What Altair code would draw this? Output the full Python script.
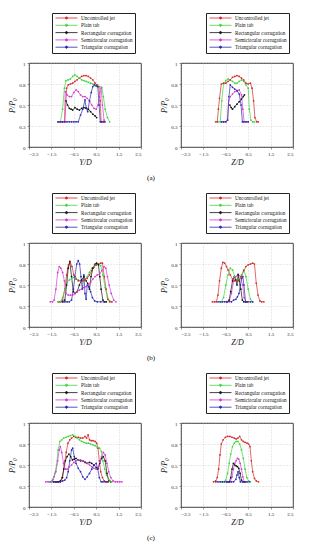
import altair as alt
import pandas as pd

names = ["Uncontrolled jet", "Plain tab", "Rectangular corrugation",
         "Semicircular corrugation", "Triangular corrugation"]
colors = ["#d42a2a", "#3fd43f", "#111111", "#d23cd2", "#2a2ab0"]
x_ticks = [-2.5, -1.5, -0.5, 0.5, 1.5, 2.5]
y_ticks = [0, 0.25, 0.5, 0.75, 1]
row_labels = ["(a)", "(b)", "(c)"]

# ---------- (a) Y/D ----------
a_y_unc_x = [-1.2,-1.1,-1.0,-0.9,-0.82,-0.75,-0.65,-0.55,-0.45,-0.35,-0.25,-0.15,-0.05,0.05,0.15,0.25,0.35,0.45,0.55,0.62,0.68,0.72,0.8,0.9]
a_y_unc_p = [0.3,0.3,0.3,0.3,0.7,0.74,0.75,0.76,0.78,0.8,0.82,0.84,0.85,0.85,0.84,0.82,0.8,0.76,0.74,0.72,0.55,0.3,0.3,0.3]
a_y_pla_x = [-1.2,-1.1,-1.0,-0.92,-0.85,-0.75,-0.65,-0.55,-0.45,-0.35,-0.25,-0.15,-0.05,0.05,0.15,0.25,0.35,0.45,0.55,0.65,0.75,0.82,0.9,1.0,1.1]
a_y_pla_p = [0.3,0.3,0.45,0.7,0.79,0.8,0.81,0.84,0.86,0.84,0.82,0.8,0.79,0.78,0.77,0.76,0.75,0.73,0.72,0.72,0.71,0.6,0.45,0.35,0.3]
a_y_rec_x = [-0.85,-0.78,-0.7,-0.62,-0.55,-0.45,-0.35,-0.25,-0.15,-0.05,0.05,0.15,0.25,0.35,0.45,0.52]
a_y_rec_p = [0.55,0.5,0.46,0.45,0.44,0.47,0.45,0.44,0.46,0.47,0.46,0.45,0.42,0.39,0.37,0.35]
a_y_sem_x = [-1.2,-1.1,-1.0,-0.92,-0.88,-0.8,-0.7,-0.6,-0.5,-0.4,-0.3,-0.2,-0.1,0.0,0.1,0.2,0.3,0.4,0.5,0.58,0.65,0.72,0.78,0.85,0.9]
a_y_sem_p = [0.3,0.3,0.3,0.3,0.66,0.62,0.6,0.6,0.65,0.68,0.66,0.62,0.6,0.6,0.58,0.55,0.5,0.46,0.45,0.5,0.6,0.7,0.5,0.32,0.3]
a_y_tri_x = [-1.2,-1.1,-1.0,-0.9,-0.8,-0.7,-0.6,-0.5,-0.4,-0.3,-0.2,-0.1,0.0,0.05,0.12,0.2,0.28,0.35,0.42,0.5,0.57,0.63,0.68,0.75,0.85]
a_y_tri_p = [0.3,0.3,0.3,0.3,0.3,0.3,0.3,0.3,0.3,0.3,0.38,0.45,0.56,0.47,0.42,0.55,0.65,0.72,0.74,0.73,0.72,0.5,0.3,0.3,0.3]

# ---------- (a) Z/D ----------
a_z_unc_x = [-0.95,-0.88,-0.83,-0.78,-0.7,-0.6,-0.5,-0.4,-0.3,-0.2,-0.1,0.0,0.1,0.2,0.3,0.4,0.5,0.6,0.67,0.74,0.8,0.88,0.95]
a_z_unc_p = [0.3,0.3,0.45,0.58,0.75,0.76,0.76,0.78,0.8,0.83,0.84,0.85,0.84,0.82,0.8,0.76,0.75,0.76,0.7,0.55,0.35,0.3,0.3]
a_z_pla_x = [-0.85,-0.75,-0.68,-0.6,-0.5,-0.4,-0.3,-0.2,-0.1,0.0,0.1,0.2,0.3,0.4,0.5,0.55,0.62,0.7,0.78]
a_z_pla_p = [0.3,0.3,0.55,0.75,0.79,0.81,0.8,0.78,0.76,0.76,0.78,0.8,0.78,0.74,0.7,0.45,0.32,0.3,0.3]
a_z_rec_x = [-0.32,-0.26,-0.2,-0.1,0.0,0.1,0.2,0.28,0.33]
a_z_rec_p = [0.5,0.47,0.45,0.48,0.51,0.54,0.57,0.6,0.62]
a_z_sem_x = [-0.7,-0.6,-0.5,-0.42,-0.37,-0.3,-0.2,-0.1,0.0,0.1,0.2,0.26,0.32,0.4,0.5]
a_z_sem_p = [0.3,0.3,0.3,0.32,0.55,0.6,0.63,0.66,0.67,0.68,0.62,0.45,0.3,0.3,0.3]
a_z_tri_x = [-0.7,-0.6,-0.5,-0.42,-0.36,-0.3,-0.2,-0.1,0.0,0.1,0.18,0.24,0.3,0.4,0.5]
a_z_tri_p = [0.3,0.3,0.3,0.32,0.6,0.74,0.71,0.69,0.67,0.63,0.5,0.3,0.3,0.3,0.3]

# ---------- (b) Y/D ----------
b_y_unc_x = [-1.2,-1.1,-1.0,-0.9,-0.82,-0.74,-0.66,-0.58,-0.5,-0.4,-0.3,-0.2,-0.1,0.0,0.1,0.2,0.3,0.4,0.5,0.6,0.7,0.78,0.86,0.94,1.02,1.1,1.2]
b_y_unc_p = [0.3,0.3,0.32,0.45,0.62,0.74,0.77,0.72,0.62,0.57,0.55,0.55,0.55,0.56,0.58,0.62,0.67,0.71,0.74,0.75,0.76,0.76,0.6,0.45,0.33,0.3,0.3]
b_y_pla_x = [-1.2,-1.1,-1.0,-0.9,-0.8,-0.7,-0.6,-0.5,-0.4,-0.3,-0.2,-0.1,0.0,0.1,0.2,0.3,0.4,0.5,0.6,0.7,0.8,0.9,1.0,1.1,1.2]
b_y_pla_p = [0.3,0.3,0.35,0.45,0.53,0.56,0.58,0.59,0.58,0.56,0.55,0.55,0.56,0.6,0.65,0.7,0.72,0.74,0.75,0.73,0.62,0.47,0.36,0.31,0.3]
b_y_rec_x = [-1.0,-0.9,-0.82,-0.75,-0.68,-0.6,-0.52,-0.45,-0.35,-0.25,-0.15,-0.05,0.05,0.12,0.2,0.27,0.35,0.45,0.52,0.6,0.66,0.72,0.8,0.88,0.95]
b_y_rec_p = [0.3,0.32,0.5,0.7,0.78,0.6,0.42,0.4,0.42,0.5,0.56,0.6,0.55,0.52,0.45,0.6,0.7,0.75,0.76,0.74,0.6,0.45,0.32,0.3,0.3]
b_y_sem_x = [-1.55,-1.45,-1.38,-1.3,-1.22,-1.15,-1.08,-1.0,-0.92,-0.85,-0.75,-0.65,-0.55,-0.45,-0.35,-0.25,-0.15,-0.05,0.05,0.15,0.25,0.35,0.45,0.55,0.65,0.75,0.85,0.93,1.0,1.08,1.17,1.28,1.38]
b_y_sem_p = [0.3,0.3,0.32,0.45,0.65,0.72,0.7,0.65,0.55,0.4,0.38,0.38,0.38,0.4,0.42,0.44,0.45,0.47,0.48,0.5,0.53,0.57,0.6,0.62,0.63,0.67,0.72,0.7,0.6,0.5,0.4,0.32,0.3]
b_y_tri_x = [-1.1,-1.0,-0.9,-0.8,-0.7,-0.6,-0.52,-0.45,-0.37,-0.3,-0.24,-0.18,-0.12,-0.05,0.0,0.05,0.1,0.17,0.25,0.33,0.43,0.55,0.7,0.85]
b_y_tri_p = [0.3,0.3,0.3,0.3,0.3,0.32,0.45,0.6,0.75,0.79,0.75,0.6,0.45,0.62,0.4,0.33,0.5,0.48,0.42,0.35,0.31,0.3,0.3,0.3]

# ---------- (b) Z/D ----------
b_z_unc_x = [-1.1,-1.0,-0.92,-0.85,-0.78,-0.7,-0.63,-0.55,-0.47,-0.4,-0.3,-0.2,-0.1,0.0,0.1,0.2,0.3,0.4,0.5,0.6,0.7,0.78,0.86,0.94,1.02,1.1,1.2]
b_z_unc_p = [0.3,0.3,0.3,0.38,0.55,0.7,0.77,0.76,0.72,0.68,0.62,0.57,0.55,0.55,0.56,0.6,0.67,0.72,0.74,0.75,0.76,0.75,0.52,0.38,0.31,0.3,0.3]
b_z_pla_x = [-0.7,-0.6,-0.5,-0.4,-0.3,-0.2,-0.1,0.0,0.1,0.2,0.3,0.4,0.5,0.6,0.7]
b_z_pla_p = [0.3,0.35,0.5,0.62,0.7,0.68,0.6,0.56,0.57,0.62,0.68,0.6,0.45,0.33,0.3]
b_z_rec_x = [-0.45,-0.35,-0.28,-0.2,-0.12,-0.05,0.0,0.05,0.1,0.17,0.24,0.3,0.4]
b_z_rec_p = [0.3,0.32,0.42,0.55,0.6,0.56,0.5,0.62,0.55,0.45,0.32,0.3,0.3]
b_z_sem_x = [-0.45,-0.35,-0.25,-0.15,-0.05,0.05,0.15,0.25,0.32,0.4,0.5]
b_z_sem_p = [0.3,0.3,0.4,0.55,0.6,0.63,0.6,0.5,0.35,0.3,0.3]
b_z_tri_x = [-0.85,-0.75,-0.65,-0.55,-0.45,-0.35,-0.25,-0.15,-0.05,0.02,0.09,0.15,0.21,0.26,0.31,0.38,0.48,0.6,0.7]
b_z_tri_p = [0.3,0.3,0.3,0.3,0.3,0.31,0.3,0.32,0.33,0.36,0.4,0.5,0.58,0.6,0.5,0.3,0.3,0.3,0.3]

# ---------- (c) Y/D ----------
c_y_unc_x = [-1.3,-1.2,-1.1,-1.0,-0.92,-0.84,-0.76,-0.68,-0.6,-0.5,-0.4,-0.3,-0.2,-0.1,0.0,0.07,0.14,0.2,0.28,0.36,0.45,0.52,0.58,0.64,0.7,0.78,0.86,0.95,1.05]
c_y_unc_p = [0.3,0.3,0.3,0.35,0.5,0.65,0.76,0.8,0.82,0.84,0.83,0.83,0.82,0.82,0.84,0.82,0.86,0.8,0.79,0.79,0.78,0.76,0.7,0.55,0.42,0.35,0.31,0.3,0.3]
c_y_pla_x = [-1.6,-1.5,-1.42,-1.35,-1.27,-1.2,-1.12,-1.04,-0.95,-0.85,-0.75,-0.65,-0.55,-0.45,-0.35,-0.25,-0.15,-0.05,0.05,0.15,0.25,0.35,0.45,0.55,0.65,0.73,0.8,0.88,0.96,1.05,1.12,1.2]
c_y_pla_p = [0.3,0.3,0.33,0.4,0.5,0.68,0.78,0.8,0.82,0.83,0.84,0.85,0.86,0.84,0.82,0.8,0.78,0.77,0.76,0.76,0.75,0.74,0.73,0.71,0.7,0.66,0.55,0.45,0.38,0.33,0.31,0.3]
c_y_rec_x = [-1.4,-1.3,-1.2,-1.1,-1.02,-0.95,-0.88,-0.8,-0.72,-0.64,-0.56,-0.48,-0.4,-0.3,-0.2,-0.1,0.0,0.1,0.2,0.3,0.4,0.5,0.58,0.66,0.74,0.82,0.9,0.98,1.06,1.15]
c_y_rec_p = [0.3,0.3,0.3,0.31,0.35,0.45,0.55,0.6,0.63,0.6,0.56,0.57,0.58,0.56,0.55,0.55,0.53,0.52,0.53,0.52,0.5,0.47,0.46,0.52,0.58,0.6,0.55,0.4,0.32,0.3]
c_y_sem_x = [-1.75,-1.65,-1.55,-1.45,-1.38,-1.3,-1.22,-1.15,-1.1,-1.04,-0.96,-0.88,-0.8,-0.7,-0.6,-0.5,-0.4,-0.3,-0.2,-0.1,0.0,0.1,0.2,0.3,0.4,0.5,0.58,0.66,0.74,0.82,0.9,0.98,1.06,1.15,1.25,1.35,1.45,1.55,1.65]
c_y_sem_p = [0.3,0.3,0.3,0.32,0.36,0.42,0.55,0.68,0.72,0.65,0.52,0.45,0.45,0.48,0.5,0.53,0.55,0.56,0.56,0.55,0.54,0.52,0.5,0.48,0.46,0.45,0.47,0.53,0.6,0.65,0.62,0.52,0.42,0.35,0.31,0.3,0.3,0.3,0.3]
c_y_tri_x = [-1.5,-1.4,-1.3,-1.2,-1.1,-1.0,-0.9,-0.82,-0.75,-0.68,-0.6,-0.55,-0.48,-0.4,-0.3,-0.2,-0.1,0.0,0.1,0.2,0.3,0.4,0.5,0.57,0.64,0.72,0.8,0.9,1.0]
c_y_tri_p = [0.3,0.3,0.3,0.3,0.3,0.31,0.32,0.35,0.42,0.55,0.68,0.7,0.6,0.52,0.46,0.42,0.36,0.33,0.36,0.4,0.45,0.5,0.52,0.45,0.35,0.3,0.3,0.3,0.3]

# ---------- (c) Z/D ----------
c_z_unc_x = [-1.05,-0.95,-0.88,-0.82,-0.76,-0.7,-0.62,-0.52,-0.42,-0.32,-0.22,-0.12,-0.04,0.04,0.12,0.2,0.28,0.36,0.45,0.52,0.58,0.64,0.7,0.78,0.86,0.96]
c_z_unc_p = [0.3,0.31,0.35,0.45,0.62,0.75,0.8,0.83,0.84,0.84,0.83,0.82,0.81,0.82,0.84,0.8,0.78,0.77,0.76,0.75,0.72,0.55,0.42,0.34,0.31,0.3]
c_z_pla_x = [-0.7,-0.6,-0.5,-0.42,-0.35,-0.28,-0.2,-0.12,-0.04,0.04,0.12,0.2,0.28,0.36,0.44,0.52,0.6]
c_z_pla_p = [0.3,0.3,0.32,0.4,0.52,0.63,0.72,0.76,0.78,0.78,0.75,0.68,0.58,0.45,0.35,0.31,0.3]
c_z_rec_x = [-0.45,-0.35,-0.28,-0.22,-0.16,-0.1,-0.04,0.02,0.08,0.14,0.2,0.28,0.36]
c_z_rec_p = [0.3,0.3,0.35,0.45,0.52,0.5,0.49,0.48,0.46,0.4,0.32,0.3,0.3]
c_z_sem_x = [-0.4,-0.3,-0.22,-0.16,-0.1,-0.04,0.02,0.08,0.14,0.2,0.26,0.32,0.4]
c_z_sem_p = [0.3,0.3,0.36,0.45,0.52,0.55,0.58,0.57,0.52,0.45,0.36,0.3,0.3]
c_z_tri_x = [-0.95,-0.85,-0.75,-0.65,-0.55,-0.45,-0.35,-0.25,-0.15,-0.05,0.0,0.05,0.1,0.15,0.25,0.35,0.45,0.55]
c_z_tri_p = [0.3,0.3,0.3,0.3,0.3,0.3,0.3,0.3,0.3,0.33,0.38,0.42,0.35,0.3,0.3,0.3,0.3,0.3]

panels = {
    "a_y": [(a_y_unc_x, a_y_unc_p), (a_y_pla_x, a_y_pla_p), (a_y_rec_x, a_y_rec_p), (a_y_sem_x, a_y_sem_p), (a_y_tri_x, a_y_tri_p)],
    "a_z": [(a_z_unc_x, a_z_unc_p), (a_z_pla_x, a_z_pla_p), (a_z_rec_x, a_z_rec_p), (a_z_sem_x, a_z_sem_p), (a_z_tri_x, a_z_tri_p)],
    "b_y": [(b_y_unc_x, b_y_unc_p), (b_y_pla_x, b_y_pla_p), (b_y_rec_x, b_y_rec_p), (b_y_sem_x, b_y_sem_p), (b_y_tri_x, b_y_tri_p)],
    "b_z": [(b_z_unc_x, b_z_unc_p), (b_z_pla_x, b_z_pla_p), (b_z_rec_x, b_z_rec_p), (b_z_sem_x, b_z_sem_p), (b_z_tri_x, b_z_tri_p)],
    "c_y": [(c_y_unc_x, c_y_unc_p), (c_y_pla_x, c_y_pla_p), (c_y_rec_x, c_y_rec_p), (c_y_sem_x, c_y_sem_p), (c_y_tri_x, c_y_tri_p)],
    "c_z": [(c_z_unc_x, c_z_unc_p), (c_z_pla_x, c_z_pla_p), (c_z_rec_x, c_z_rec_p), (c_z_sem_x, c_z_sem_p), (c_z_tri_x, c_z_tri_p)],
}

FONT = "Liberation Serif"
# line segment with a dot, offset to the right of the symbol anchor
LEGEND_PATH = "M-0.6,0H8.2M3.36,0A0.44,0.44,0,1,0,4.24,0A0.44,0.44,0,1,0,3.36,0Z"


def make_df(series):
    rows = []
    for name, (xs, ps) in zip(names, series):
        for i, (x, p) in enumerate(zip(xs, ps)):
            rows.append({"x": x, "p": p, "series": name, "i": i})
    return pd.DataFrame(rows)


def panel(key, xtitle, lx):
    df = make_df(panels[key])
    return alt.Chart(df).mark_line(
        strokeWidth=0.7,
        point=alt.OverlayMarkDef(filled=True, size=3),
    ).encode(
        x=alt.X("x:Q", scale=alt.Scale(domain=[-2.5, 2.5], nice=False, zero=False),
                axis=alt.Axis(values=x_ticks, title=xtitle, format=".1f")),
        y=alt.Y("p:Q", scale=alt.Scale(domain=[0, 1], nice=False),
                axis=alt.Axis(values=y_ticks, title="P/P₀", format="~g")),
        color=alt.Color("series:N", scale=alt.Scale(domain=names, range=colors),
                        legend=alt.Legend(orient="none", legendX=lx, legendY=-50,
                                          title=None)),
        order="i:O",
    ).properties(width=112, height=84)


rows = []
for lab, r in zip(row_labels, ["a", "b", "c"]):
    rows.append(
        alt.hconcat(panel(r + "_y", "Y/D", 23), panel(r + "_z", "Z/D", 25), spacing=18)
        .resolve_scale(color="independent")
        .properties(title=alt.TitleParams(lab, orient="bottom", anchor="middle",
                                          fontSize=7, font=FONT, fontWeight="normal",
                                          color="#000000", offset=8))
    )

chart = alt.vconcat(*rows, spacing=10).resolve_scale(color="independent").properties(
    padding={"left": 0, "top": 4, "right": 0, "bottom": 0}
).configure(font=FONT).configure_view(
    stroke="black", strokeWidth=0.8
).configure_axis(
    labelFont=FONT, labelFontSize=5, labelColor="#222", labelPadding=2,
    titleFont=FONT, titleFontSize=8, titleFontStyle="italic", titleFontWeight="normal",
    titleColor="#222", titlePadding=2,
    grid=True, gridColor="#aaa", gridDash=[1, 2], gridWidth=0.5,
    domain=False, tickSize=2, tickColor="#333", tickWidth=0.5,
).configure_legend(
    labelFont=FONT, labelFontSize=5.2, labelColor="#111", labelLimit=120,
    symbolType=LEGEND_PATH, symbolSize=25, symbolStrokeWidth=0.8,
    strokeColor="#222", fillColor="white", padding=2, rowPadding=0.3,
    labelOffset=21, cornerRadius=0,
)

chart.save("out.html", embed_options={"renderer": "svg", "actions": False})
